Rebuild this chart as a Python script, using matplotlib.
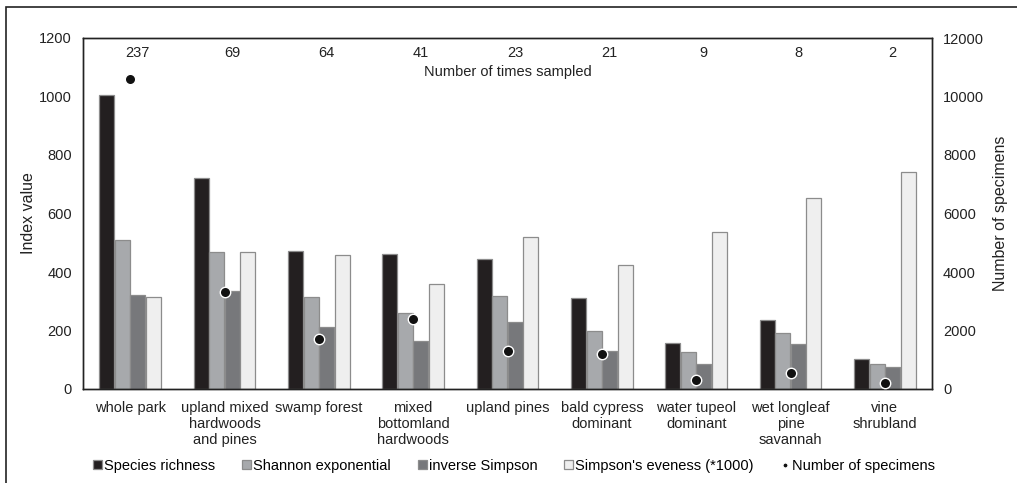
import matplotlib.pyplot as plt
import numpy as np
from matplotlib.patches import Rectangle

plt.rcParams['font.family'] = ['Liberation Sans', 'DejaVu Sans']

#%% data
habitats = ['whole park', 'upland mixed\nhardwoods\nand pines', 'swamp forest',
            'mixed\nbottomland\nhardwoods', 'upland pines', 'bald cypress\ndominant',
            'water tupeol\ndominant', 'wet longleaf\npine\nsavannah', 'vine\nshrubland']
times_sampled = [237, 69, 64, 41, 23, 21, 9, 8, 2]
richness = [1004, 720, 473, 460, 443, 312, 156, 235, 101]
shannon = [509, 469, 314, 260, 319, 199, 126, 193, 87]
inv_simpson = [320, 335, 213, 164, 230, 130, 87, 153, 76]
evenness = [314, 469, 459, 359, 519, 425, 536, 652, 742]
specimens = [10610, 3300, 1700, 2410, 1310, 1200, 320, 540, 205]

#%% plot
fig = plt.figure(figsize=(10.17, 4.83), dpi=100)
ax = fig.add_axes([83/1017, 1-389/483, 849/1017, 351/483])
ax2 = ax.twinx()

x = np.arange(len(habitats))
w = 0.165
series = [(richness, '#231f20', 'Species richness'),
          (shannon, '#a7a9ac', 'Shannon exponential'),
          (inv_simpson, '#77787b', 'inverse Simpson'),
          (evenness, '#efefef', "Simpson's eveness (*1000)")]
for k, (vals, col, lab) in enumerate(series):
    ax.bar(x + (k - 1.5) * w, vals, w * 0.97, color=col, edgecolor='#8c8c8c',
           linewidth=0.9, label=lab, zorder=2)

ax2.plot(x, specimens, 'o', color='#111111', markersize=7.5, markeredgecolor='white',
         markeredgewidth=1.0, label='Number of specimens', zorder=5)

ax.set_xlim(-0.5, len(habitats) - 0.5)
ax.set_ylim(0, 1200)
ax2.set_ylim(0, 12000)
ax.set_yticks(np.arange(0, 1201, 200))
ax2.set_yticks(np.arange(0, 12001, 2000))
ax.set_xticks(x)
ax.set_xticklabels(habitats, fontsize=10.5, linespacing=1.2)
ax.tick_params(axis='both', length=0, labelsize=10.5, pad=8, colors='#222222')
ax2.tick_params(axis='y', length=0, labelsize=10.5, pad=8, colors='#222222')
ax.tick_params(axis='x', pad=8.5)
ax.set_ylabel('Index value', fontsize=11.5, labelpad=2, color='#222222')
ax2.set_ylabel('Number of specimens', fontsize=11.5, labelpad=6, color='#222222')
for sp in list(ax.spines.values()) + list(ax2.spines.values()):
    sp.set_linewidth(1.0)
    sp.set_color('#222222')

for i, n in enumerate(times_sampled):
    ax.text(i + 0.08, 1150, str(n), ha='center', va='center', fontsize=10.5, color='#222222')
ax.text(0.5, 1085, 'Number of times sampled', ha='center', va='center',
        fontsize=10.5, color='#222222', transform=ax.get_yaxis_transform())

h1, l1 = ax.get_legend_handles_labels()
h2, l2 = ax2.get_legend_handles_labels()
fig.legend(h1 + h2, l1 + l2, loc='center', bbox_to_anchor=(514/1017, 1-466/483), ncol=5,
           frameon=False, fontsize=10.5, handlelength=0.6, handleheight=0.6,
           handletextpad=0.15, columnspacing=1.85, markerscale=0.5)

# outer frame (cropped on the right and bottom)
fig.patches.append(Rectangle((6/1017, -0.1), 1.2, 1-7/483+0.1, transform=fig.transFigure,
                             fill=False, edgecolor='#222222', linewidth=1.2))

fig.savefig('out.png', dpi=100)
